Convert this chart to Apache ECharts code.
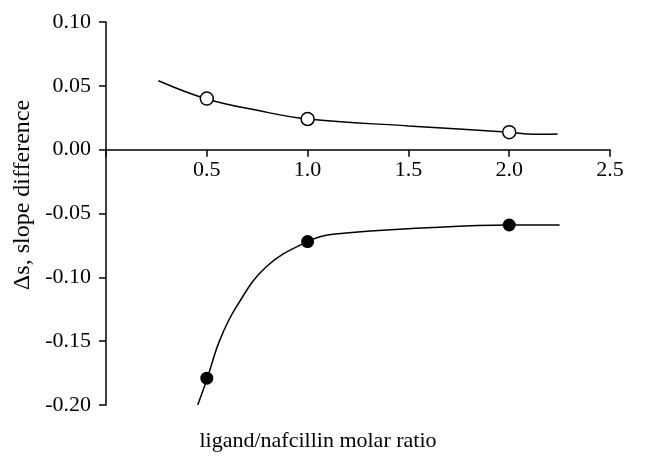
<!DOCTYPE html>
<html>
<head>
<meta charset="utf-8">
<script src="https://cdn.jsdelivr.net/npm/echarts@6/dist/echarts.min.js"></script>
<style>
  html, body { margin: 0; padding: 0; background: #fff; }
  #chart { width: 645px; height: 456px; }
</style>
</head>
<body>
<div id="chart"></div>
<script>
// measured points (ligand/nafcillin molar ratio, slope difference)
const openX = [0.5, 1.0, 2.0];
const openY = [0.040, 0.024, 0.0137];
const filledX = [0.5, 1.0, 2.0];
const filledY = [-0.179, -0.072, -0.059];

// fitted curves
const openCurveX = [0.26, 0.5, 0.75, 1.0, 1.5, 2.0, 2.12, 2.24];
const openCurveY = [0.054, 0.0397, 0.0308, 0.024, 0.0186, 0.0136, 0.012, 0.0123];
const filledCurveX = [0.455, 0.5, 0.565, 0.647, 0.795, 1.0, 1.125, 1.62, 2.0, 2.25];
const filledCurveY = [-0.200, -0.180, -0.149, -0.123, -0.0917, -0.072, -0.0663, -0.061, -0.059, -0.059];

const xTicks = [0.5, 1.0, 1.5, 2.0, 2.5];

const FONT = 'Liberation Serif';
const GRID_H = 456 - 22 - 51;

const zip = (xs, ys) => xs.map((x, i) => [x, ys[i]]);

const chart = echarts.init(document.getElementById('chart'));

const option = {
  animation: false,
  backgroundColor: '#fff',
  textStyle: { fontFamily: FONT, color: '#000' },
  grid: { left: 106, right: 35, top: 22, bottom: 51 },
  xAxis: {
    type: 'value',
    min: 0,
    max: 2.5,
    interval: 0.5,
    // x axis sits on y = 0 (0.2 of the 0.3 range is below it)
    offset: -GRID_H * 2 / 3,
    axisLine: { onZero: false, lineStyle: { color: '#000', width: 1.5 } },
    axisTick: { show: true, inside: false, length: 7, lineStyle: { color: '#000', width: 1.5 } },
    axisLabel: {
      margin: 10,
      fontFamily: FONT,
      fontSize: 22,
      color: '#000',
      formatter: v => (xTicks.indexOf(v) >= 0 ? v.toFixed(1) : '')
    },
    splitLine: { show: false }
  },
  yAxis: {
    type: 'value',
    min: -0.2,
    max: 0.1,
    interval: 0.05,
    axisLine: { show: true, onZero: false, lineStyle: { color: '#000', width: 1.5 } },
    axisTick: { show: true, inside: false, length: 7, lineStyle: { color: '#000', width: 1.5 } },
    axisLabel: {
      margin: 15,
      fontFamily: FONT,
      fontSize: 22,
      color: '#000',
      formatter: v => v.toFixed(2)
    },
    splitLine: { show: false }
  },
  graphic: [
    {
      type: 'text',
      x: 23,
      y: 195,
      rotation: Math.PI / 2,
      style: {
        text: '\u0394s, slope difference',
        font: '24px "Liberation Serif"',
        fill: '#000',
        align: 'center',
        verticalAlign: 'middle'
      }
    },
    {
      type: 'text',
      x: 318,
      y: 441,
      style: {
        text: 'ligand/nafcillin molar ratio',
        font: '22px "Liberation Serif"',
        fill: '#000',
        align: 'center',
        verticalAlign: 'middle'
      }
    }
  ],
  series: [
    {
      type: 'line',
      data: zip(openCurveX, openCurveY),
      smooth: 0.4,
      showSymbol: false,
      lineStyle: { color: '#000', width: 1.5 },
      z: 2
    },
    {
      type: 'line',
      data: zip(filledCurveX, filledCurveY),
      smooth: 0.4,
      showSymbol: false,
      lineStyle: { color: '#000', width: 1.5 },
      z: 2
    },
    {
      type: 'scatter',
      data: zip(openX, openY),
      symbol: 'circle',
      symbolSize: 13,
      itemStyle: { color: '#fff', borderColor: '#000', borderWidth: 1.5, opacity: 1 },
      z: 3
    },
    {
      type: 'scatter',
      data: zip(filledX, filledY),
      symbol: 'circle',
      symbolSize: 13,
      itemStyle: { color: '#000', opacity: 1 },
      z: 3
    }
  ]
};

chart.setOption(option);
</script>
</body>
</html>
